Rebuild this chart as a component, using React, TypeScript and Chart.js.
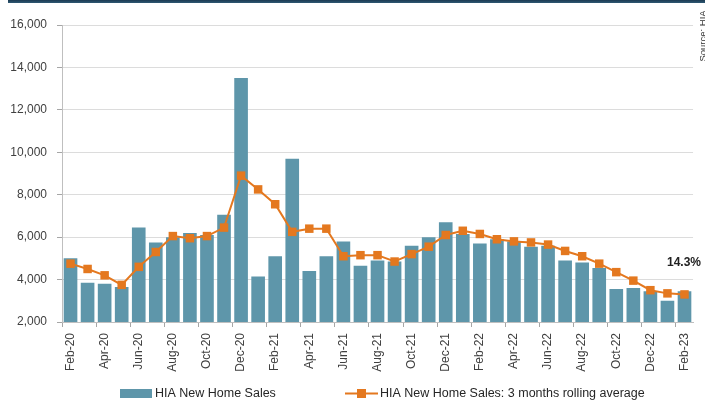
import React, { useEffect, useRef } from 'react';
import { Chart, registerables } from 'chart.js';

Chart.register(...registerables);

const months = [
  'Feb-20', 'Mar-20', 'Apr-20', 'May-20', 'Jun-20', 'Jul-20', 'Aug-20', 'Sep-20', 'Oct-20', 'Nov-20', 'Dec-20',
  'Jan-21', 'Feb-21', 'Mar-21', 'Apr-21', 'May-21', 'Jun-21', 'Jul-21', 'Aug-21', 'Sep-21', 'Oct-21', 'Nov-21', 'Dec-21',
  'Jan-22', 'Feb-22', 'Mar-22', 'Apr-22', 'May-22', 'Jun-22', 'Jul-22', 'Aug-22', 'Sep-22', 'Oct-22', 'Nov-22', 'Dec-22',
  'Jan-23', 'Feb-23',
];

const newHomeSales = [
  5000, 3850, 3800, 3650, 6450, 5750, 6000, 6200, 6100, 7050, 13500,
  4150, 5100, 9700, 4400, 5100, 5800, 4650, 4900, 4850, 5600, 6000, 6700,
  6150, 5700, 5900, 5800, 5550, 5600, 4900, 4800, 4550, 3550, 3600, 3450,
  3000, 3450,
];

const rollingAverage = [
  4750, 4500, 4200, 3750, 4600, 5300, 6050, 5950, 6050, 6450, 8900,
  8250, 7550, 6250, 6400, 6400, 5100, 5150, 5150, 4850, 5200, 5550, 6100,
  6300, 6150, 5900, 5800, 5750, 5650, 5350, 5100, 4750, 4350, 3950, 3500,
  3350, 3300,
];

const yMin = 2000;
const yMax = 16000;
const yStep = 2000;

const seriesNames = ['HIA New Home Sales', 'HIA New Home Sales: 3 months rolling average'];
const changeLabel = '14.3%';
const sourceLabel = 'Source: HIA';

const BAR = '#5e96aa';
const LINE = '#e4781f';
const FONT = "'Liberation Sans', Arial, sans-serif";

const overlay = {
  id: 'overlay',
  afterDraw(chart: any) {
    const ctx = chart.ctx as CanvasRenderingContext2D;
    ctx.save();
    // legend
    ctx.fillStyle = BAR;
    ctx.fillRect(120, 389, 32, 9);
    ctx.font = `12.5px ${FONT}`;
    ctx.fillStyle = '#262626';
    ctx.textBaseline = 'middle';
    ctx.textAlign = 'left';
    ctx.fillText(seriesNames[0], 155, 393.5);
    ctx.strokeStyle = LINE;
    ctx.lineWidth = 2;
    ctx.beginPath();
    ctx.moveTo(345, 393.5);
    ctx.lineTo(378, 393.5);
    ctx.stroke();
    ctx.fillStyle = LINE;
    ctx.fillRect(357, 389, 9, 9);
    ctx.fillStyle = '#262626';
    ctx.fillText(seriesNames[1], 380, 393.5);
    // annotation
    ctx.font = `bold 12px ${FONT}`;
    ctx.textAlign = 'right';
    ctx.fillStyle = '#222222';
    ctx.fillText(changeLabel, 701, 262.5);
    // source
    ctx.translate(703, 36);
    ctx.rotate(-Math.PI / 2);
    ctx.font = `9.5px ${FONT}`;
    ctx.textAlign = 'center';
    ctx.fillStyle = '#333333';
    ctx.fillText(sourceLabel, 0, 0);
    ctx.restore();
  },
};

export default function App() {
  const canvasRef = useRef<HTMLCanvasElement | null>(null);

  useEffect(() => {
    document.body.style.margin = '0';
    const canvas = canvasRef.current;
    if (!canvas) return;
    const chart = new Chart(canvas, {
      type: 'bar',
      data: {
        labels: months,
        datasets: [
          {
            type: 'line',
            label: seriesNames[1],
            data: rollingAverage,
            borderColor: LINE,
            backgroundColor: LINE,
            borderWidth: 2,
            tension: 0,
            pointStyle: 'rect',
            pointRadius: 6,
            pointBorderWidth: 0,
            pointBackgroundColor: LINE,
            order: 0,
          } as any,
          {
            type: 'bar',
            label: seriesNames[0],
            data: newHomeSales,
            backgroundColor: BAR,
            borderWidth: 0,
            categoryPercentage: 1,
            barPercentage: 0.8,
            order: 1,
          },
        ],
      },
      options: {
        responsive: false,
        animation: false,
        layout: { padding: { top: 25, right: 7, left: 0, bottom: 0 } },
        plugins: {
          legend: { display: false },
          tooltip: { enabled: false },
        },
        scales: {
          x: {
            type: 'category',
            offset: true,
            grid: {
              offset: true,
              drawOnChartArea: false,
              drawTicks: true,
              tickLength: 5,
              color: (c: any) => (c.index % 2 === 0 ? '#a6a6a6' : 'rgba(0,0,0,0)'),
            },
            border: { color: '#bfbfbf' },
            ticks: {
              autoSkip: false,
              minRotation: 90,
              maxRotation: 90,
              padding: 6,
              color: '#404040',
              font: { family: FONT, size: 12 },
              callback: (_v: any, i: number) => (i % 2 === 0 ? months[i] : ''),
            },
            afterFit: (s: any) => {
              s.height = 81;
            },
          },
          y: {
            min: yMin,
            max: yMax,
            grid: { color: '#dcdcdc', tickLength: 5, tickColor: '#a6a6a6' },
            border: { color: '#bfbfbf' },
            ticks: {
              stepSize: yStep,
              padding: 10,
              color: '#404040',
              font: { family: FONT, size: 12 },
              callback: (v: any) => Number(v).toLocaleString('en-US'),
            },
            afterFit: (s: any) => {
              s.width = 62;
            },
          },
        },
      },
      plugins: [overlay],
    });
    return () => chart.destroy();
  }, []);

  return (
    <div style={{ position: 'relative', width: 705, height: 403, background: '#ffffff' }}>
      <div
        style={{
          position: 'absolute',
          left: 8,
          top: 0,
          width: 697,
          height: 3,
          background: 'linear-gradient(#1b3a52, #2f5873)',
        }}
      />
      <canvas ref={canvasRef} width={705} height={403} style={{ display: 'block' }} />
    </div>
  );
}
